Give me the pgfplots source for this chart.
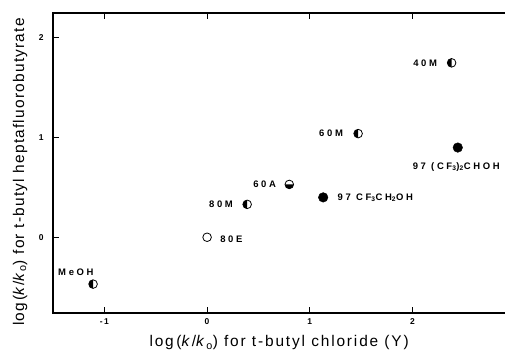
\documentclass[border=0pt]{standalone}
\usepackage{pgfplots}
\pgfplotsset{compat=1.18}
\usepackage{fontspec}
\setmainfont{Liberation Sans}
\usetikzlibrary{calc}

\pgfdeclareplotmark{lefthalf}{%
  \pgfpathcircle{\pgfpointorigin}{\pgfplotmarksize}%
  \pgfsetfillcolor{white}%
  \pgfusepathqfillstroke
  \pgfpathmoveto{\pgfqpoint{0pt}{\pgfplotmarksize}}%
  \pgfpatharc{90}{270}{\pgfplotmarksize}%
  \pgfpathclose
  \pgfsetfillcolor{black}%
  \pgfusepathqfill
}
\pgfdeclareplotmark{bottomhalf}{%
  \pgfpathcircle{\pgfpointorigin}{\pgfplotmarksize}%
  \pgfsetfillcolor{white}%
  \pgfusepathqfillstroke
  \pgfpathmoveto{\pgfqpoint{-\pgfplotmarksize}{0pt}}%
  \pgfpatharc{180}{360}{\pgfplotmarksize}%
  \pgfpathclose
  \pgfsetfillcolor{black}%
  \pgfusepathqfill
}

\newcommand{\lbl}{\fontsize{9.5}{10}\bfseries\addfontfeature{LetterSpace=28}}
\newcommand{\axl}{\fontsize{15.5}{17}\selectfont\addfontfeature{LetterSpace=12}}
\newcommand{\ayl}{\fontsize{15.5}{17}\selectfont\addfontfeature{LetterSpace=8}}

\begin{document}
\begin{tikzpicture}
\begin{axis}[
  scale only axis, width=455bp, height=300bp,
  xmin=-1.5, xmax=2.929, ymin=-0.76, ymax=2.25,
  axis line style={line width=1.1pt},
  tick align=inside, major tick length=6bp,
  tick style={line width=1.1pt, black},
  xtick pos=both, ytick pos=left,
  xtick={-1,0,1,2}, xticklabels={{-\,1},0,1,2},
  ytick={0,1,2}, yticklabels={0,1,2},
  ticklabel style={font=\fontsize{8.5}{9}\selectfont\bfseries},
  xticklabel style={yshift=-2bp},
  yticklabel style={xshift=-6bp},
  xlabel={\axl log\,(\textit{k}/\textit{k}\textsubscript{o}) for t-butyl chloride (Y)},
  ylabel={\ayl log\,(\textit{k}/\textit{k}\textsubscript{o}) for t-butyl heptafluorobutyrate},
  every axis x label/.style={at={(axis description cs:0.497,-0.1)}, anchor=center},
  every axis y label/.style={at={(axis description cs:-0.0725,0.47)}, anchor=center, rotate=90},
  clip=false,
]
\coordinate (SW) at (axis cs:-1.5,-0.76);

% half-filled (left) circles
\addplot[only marks, mark=lefthalf, mark size=4.3bp, line width=0.8pt] coordinates {
  (-1.11,-0.47) (0.39,0.33) (1.47,1.04) (2.38,1.75)
};
% bottom-half filled
\addplot[only marks, mark=bottomhalf, mark size=4.3bp, line width=0.8pt] coordinates {
  (0.80,0.53)
};
% open circle
\addplot[only marks, mark=o, mark size=4.3bp, line width=0.8pt] coordinates {
  (0.0,0.0)
};
% filled circles
\addplot[only marks, mark=*, mark size=4.8bp, fill=black] coordinates {
  (1.13,0.40) (2.44,0.90)
};

\node[anchor=west, inner sep=0] at (axis cs:-1.451,-0.348) {\lbl MeOH};
\node[anchor=west, inner sep=0] at (axis cs:0.127,-0.02) {\lbl 80E};
\node[anchor=east, inner sep=0] at (axis cs:0.253,0.331) {\lbl 80M};
\node[anchor=east, inner sep=0] at (axis cs:0.672,0.532) {\lbl 60A};
\node[anchor=west, inner sep=0] at (axis cs:1.269,0.398) {\lbl 97 CF\textsubscript{3}CH\textsubscript{2}OH};
\node[anchor=east, inner sep=0] at (axis cs:1.324,1.043) {\lbl 60M};
\node[anchor=east, inner sep=0] at (axis cs:2.24,1.745) {\lbl 40M};
\node[anchor=west, inner sep=0] at (axis cs:2.0,0.705) {\lbl 97 (CF\textsubscript{3})\textsubscript{2}CHOH};
\end{axis}
\draw[line width=1.1pt] ($(SW)+(-0.5pt,300bp)$) -- ($(SW)+(460bp,300bp)$);
\foreach \tx in {51.4,154.1,256.8,359.5}{
  \draw[line width=1.1pt] ($(SW)+(\tx bp,300bp)$) -- ($(SW)+(\tx bp,294bp)$);
}
\pgfresetboundingbox
\path ($(SW)+(-53bp,-39bp)$) rectangle ($(SW)+(452bp,313bp)$);
\end{tikzpicture}
\end{document}
